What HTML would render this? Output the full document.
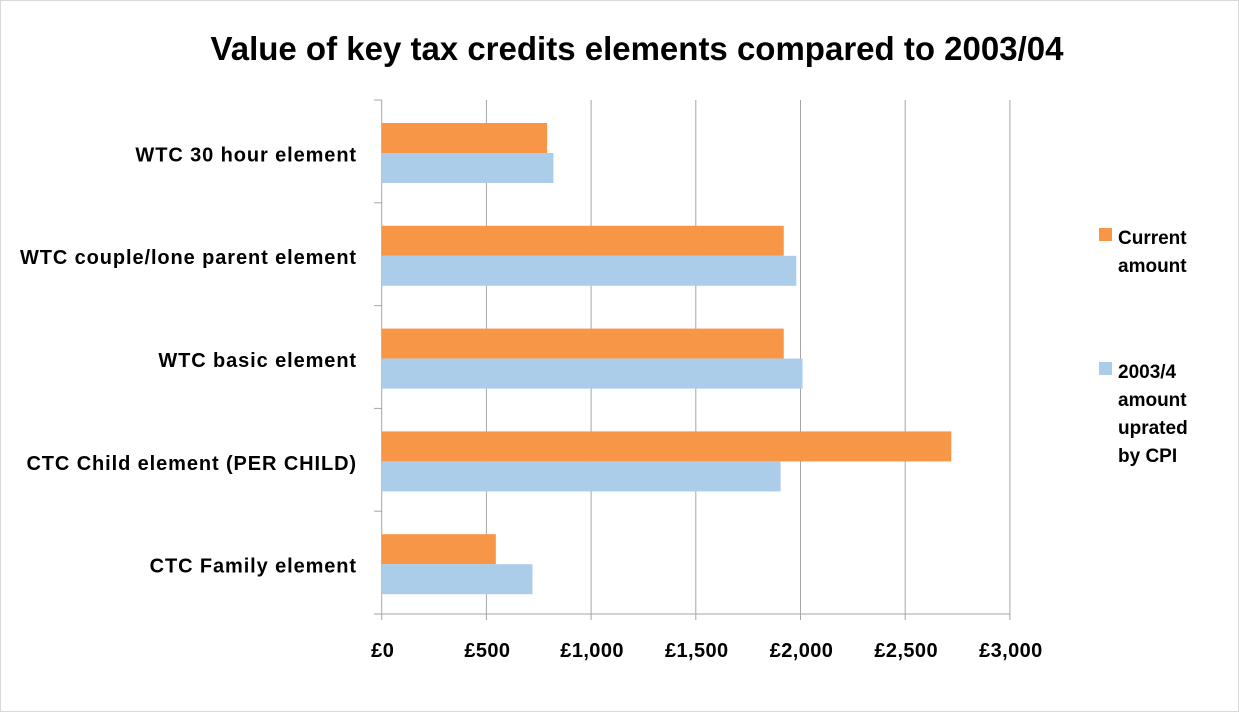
<!DOCTYPE html>
<html><head><meta charset="utf-8"><style>
body{margin:0;background:#fff;}
svg{display:block;font-family:"Liberation Sans",Calibri,sans-serif;font-weight:bold;}
</style></head><body>
<svg width="1239" height="712">
<rect x="0.5" y="0.5" width="1238" height="711" fill="#fff" stroke="#d9d9d9"/>
<text x="637" y="60" text-anchor="middle" font-size="33" fill="#000">Value of key tax credits elements compared to 2003/04</text>
<g id="grid"></g><g id="bars"></g><g id="labels"></g>
<g>
<rect x="1099" y="228" width="13" height="13" fill="#f79646"/>
<text font-size="19" fill="#000"><tspan x="1118" y="244">Current</tspan><tspan x="1118" y="272">amount</tspan></text>
<rect x="1099" y="362" width="13" height="13" fill="#abcde9"/>
<text font-size="19" fill="#000"><tspan x="1118" y="378">2003/4</tspan><tspan x="1118" y="406">amount</tspan><tspan x="1118" y="434">uprated</tspan><tspan x="1118" y="462">by CPI</tspan></text>
</g>
</svg>
<script>
const categories=["WTC 30 hour element","WTC couple/lone parent element","WTC basic element","CTC Child element (PER CHILD)","CTC Family element"];
const currentAmount=[790,1920,1920,2720,545];
const cpiAmount=[820,1980,2010,1905,720];
const ticks=[0,500,1000,1500,2000,2500,3000];
const tickLabels=["£0","£500","£1,000","£1,500","£2,000","£2,500","£3,000"];
const NS="http://www.w3.org/2000/svg";
const x0=381.7,pxPer=104.7/500,plotTop=100,plotBottom=614;
const band=(plotBottom-plotTop)/categories.length;
const X=v=>x0+v*pxPer;
function mk(tag,attrs,parent){const e=document.createElementNS(NS,tag);for(const k in attrs)e.setAttribute(k,attrs[k]);document.getElementById(parent).appendChild(e);return e;}
ticks.forEach((t,i)=>{
 if(i>0){const g=mk('line',{x1:X(t),x2:X(t),y1:plotTop,y2:plotBottom,stroke:'#a6a6a6','stroke-width':1},'grid');
 
 }
 const tk=mk('line',{x1:X(t),x2:X(t),y1:plotBottom,y2:plotBottom+6,stroke:'#a6a6a6'},'grid');
 
 
 const l=mk('text',{x:X(t)+1,y:657,'text-anchor':'middle','font-size':20,'letter-spacing':0.4},'labels');
 l.textContent=tickLabels[i];
 
 
});
const ax=mk('line',{x1:X(0),x2:X(0),y1:plotTop,y2:plotBottom,stroke:'#a6a6a6'},'grid');


const bx=mk('line',{x1:374,x2:X(3000),y1:plotBottom,y2:plotBottom,stroke:'#a6a6a6'},'grid');


for(let i=0;i<=categories.length;i++){
 const t=mk('line',{x1:374,x2:X(0),y1:plotTop+i*band,y2:plotTop+i*band,stroke:'#a6a6a6'},'grid');
 
 
}
categories.forEach((c,i)=>{
 const y=plotTop+i*band;
 const b1=mk('rect',{x:X(0),y:y+23,width:X(currentAmount[i])-X(0),height:30,fill:'#f79646'},'bars');
 
 
 const b2=mk('rect',{x:X(0),y:y+53,width:X(cpiAmount[i])-X(0),height:30,fill:'#abcde9'},'bars');
 
 
 const l=mk('text',{x:357,y:y+band/2+10,'text-anchor':'end','font-size':20,'letter-spacing':0.9},'labels');
 l.textContent=c;
 
 
});
</script>
</body></html>
